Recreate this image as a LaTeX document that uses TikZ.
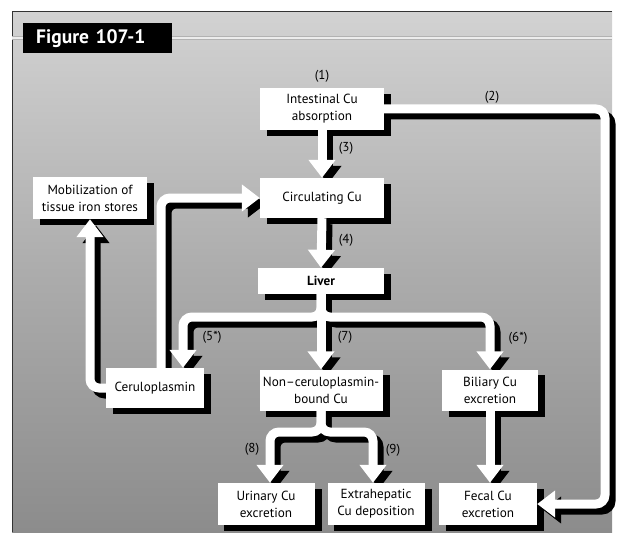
\documentclass[tikz,border=0pt]{standalone}
\usepackage{fontspec}
\setmainfont{PT Sans}
\usetikzlibrary{arrows.meta,calc}
\pgfdeclarelayer{bgl}
\pgfdeclarelayer{bshadow}
\pgfdeclarelayer{arrshadow}
\pgfdeclarelayer{arrwhite}
\pgfsetlayers{bgl,bshadow,arrshadow,arrwhite,main}
\definecolor{bgtop}{RGB}{210,210,210}
\definecolor{bgmid}{RGB}{172,172,172}
\definecolor{bgbot}{RGB}{140,140,140}
\tikzset{
  box/.style={fill=white, inner sep=0pt, align=center, font=\fontsize{13.2}{17}\selectfont},
  arr/.style={line width=9pt, rounded corners=9pt, -{Triangle[width=26pt,length=18pt]}},
  lab/.style={font=\fontsize{13}{15}\selectfont, inner sep=0pt},
  figbox/.style={fill=black, text=white, font=\bfseries\fontsize{19.5}{21}\selectfont,
    inner xsep=13pt, inner ysep=0pt, text width=123pt, align=left, minimum height=30pt},
}
\newcommand\allarrows{%
  \draw[arr] (intes.south) -- (circ.north);
  \draw[arr] (circ.south) -- (liver.north);
  \draw[arr] (intes.east) -| (rx |- fecal.east) -- (fecal.east);
  \draw[arr] (liver.south) |- (bl) -- (bl |- cerulo.north);
  \draw[arr] (liver.south) |- (bil.north |- bl) -- (bil.north);
  \draw[arr] (liver.south) -- (noncer.north);
  \draw[arr] ([xshift=6pt]cerulo.north) |- (circ.west);
  \draw[arr] (cerulo.west) -| (mobil.south);
  \draw[arr] (noncer.south) |- (ul) -- (ul |- urin.north);
  \draw[arr] (noncer.south) |- (ur) -- (ur |- extra.north);
  \draw[arr] (bil.south) -- (bil.south |- fecal.north);
}
\begin{document}
\begin{tikzpicture}[x=1pt,y=-1pt]
\useasboundingbox (0,0) rectangle (622,543);
\begin{pgfonlayer}{bgl}
  \fill[top color=bgtop, bottom color=bgbot, middle color=bgmid] (12,12) rectangle (612,532);
  \draw[gray!40!black, line width=1pt] (12,532) -- (12,12) -- (612,12);
  \draw[gray!60, line width=4.5pt] (12,38) -- (612,38);
  \draw[white!85!gray, line width=1.2pt] (12,38) -- (612,38);
\end{pgfonlayer}

\node[figbox, anchor=north west] (fig) at (23,23) {Figure 107-1};

\node[box, minimum width=124pt, minimum height=42pt] (intes) at (322,109) {Intestinal Cu\\absorption};
\node[box, minimum width=124pt, minimum height=40pt] (circ) at (322,198) {Circulating Cu};
\node[box, minimum width=126pt, minimum height=26pt, font=\bfseries\fontsize{13.2}{17}\selectfont] (liver) at (321,281) {Liver};
\node[box, minimum width=114pt, minimum height=42pt] (mobil) at (90,198) {Mobilization of\\tissue iron stores};
\node[box, minimum width=98pt, minimum height=40pt] (cerulo) at (155,388) {Ceruloplasmin};
\node[box, minimum width=123pt, minimum height=41pt] (noncer) at (321,390) {Non--ceruloplasmin-\\bound Cu};
\node[box, minimum width=96pt, minimum height=41pt] (bil) at (490,390) {Biliary Cu\\excretion};
\node[box, minimum width=97pt, minimum height=42pt] (urin) at (266,504) {Urinary Cu\\excretion};
\node[box, minimum width=97pt, minimum height=42pt] (extra) at (376,504) {Extrahepatic\\Cu deposition};
\node[box, minimum width=98pt, minimum height=42pt] (fecal) at (488,504) {Fecal Cu\\excretion};

\coordinate (rx) at (605,0);
\coordinate (bl) at (183,317);
\coordinate (ul) at (270,432);
\coordinate (ur) at (373,432);

\begin{pgfonlayer}{bshadow}
  \foreach \n in {intes,circ,liver,mobil,cerulo,noncer,bil,urin,extra,fecal}
    \fill[black] ([shift={(7pt,-6pt)}]\n.north west) rectangle ([shift={(7pt,-6pt)}]\n.south east);
\end{pgfonlayer}
\begin{pgfonlayer}{arrshadow}
  \begin{scope}[transform canvas={xshift=6pt,yshift=-6pt}, color=black]
    \allarrows
  \end{scope}
\end{pgfonlayer}
\begin{pgfonlayer}{arrwhite}
  \begin{scope}[color=white]
    \allarrows
  \end{scope}
\end{pgfonlayer}

\node[lab] (l1) at (322,76) {(1)};
\node[lab] (l2) at (492,97) {(2)};
\node[lab] (l3) at (346,148) {(3)};
\node[lab] (l4) at (346,240) {(4)};
\node[lab] (l5) at (212,337) {(5*)};
\node[lab] (l7) at (345,337) {(7)};
\node[lab] (l6) at (518,338) {(6*)};
\node[lab] (l8) at (252,449) {(8)};
\node[lab] (l9) at (393,450) {(9)};
\end{tikzpicture}
\end{document}
